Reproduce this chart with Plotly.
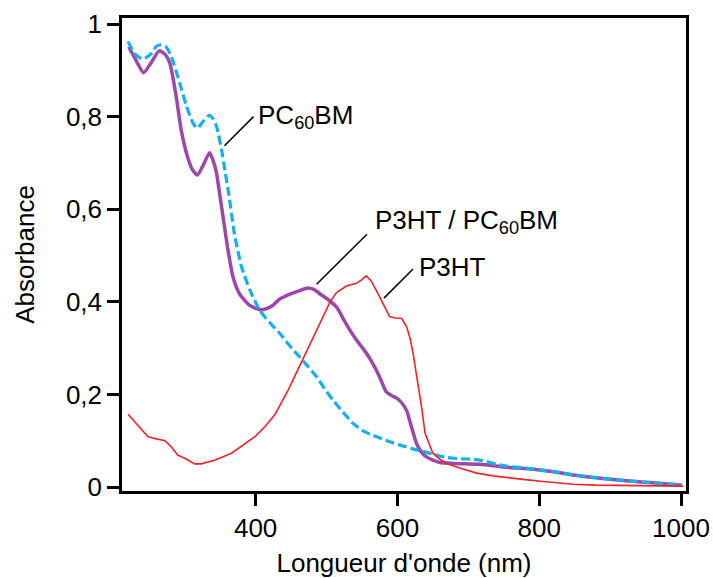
import plotly.graph_objects as go

# ---- data ----
p3ht_nm = [220, 229, 239, 248, 257, 272, 281, 290, 300, 314, 323, 342, 366, 384, 399, 413, 427, 446,
           462, 486, 505, 514, 523, 528, 542, 549, 556, 563, 570, 582, 589, 597, 606, 613, 618, 622,
           629, 634, 639, 645, 650, 660, 669, 690, 712, 735, 759, 780, 806, 830, 848, 880, 919, 960, 1003]
p3ht_abs = [0.157, 0.141, 0.123, 0.109, 0.105, 0.100, 0.087, 0.069, 0.062, 0.050, 0.050, 0.058, 0.073,
            0.093, 0.109, 0.130, 0.156, 0.210, 0.262, 0.340, 0.400, 0.420, 0.430, 0.434, 0.440, 0.447,
            0.456, 0.445, 0.425, 0.389, 0.368, 0.365, 0.364, 0.346, 0.320, 0.289, 0.224, 0.173, 0.116,
            0.090, 0.073, 0.060, 0.051, 0.040, 0.030, 0.024, 0.019, 0.016, 0.012, 0.009, 0.006, 0.004,
            0.003, 0.003, 0.002]

blend_nm = [221, 230, 242, 252, 264, 272, 279, 288, 295, 304, 311, 318, 326, 335, 340, 345, 347, 354,
            361, 368, 377, 391, 406, 415, 424, 433, 443, 458, 474, 482, 490, 502, 514, 523, 533, 542,
            551, 561, 570, 577, 584, 591, 599, 606, 613, 617, 622, 627, 633, 641, 650, 660, 680, 693,
            716, 730, 754, 780, 801, 825, 848, 880, 919, 960, 1001]
blend_abs = [0.951, 0.925, 0.895, 0.915, 0.942, 0.935, 0.915, 0.843, 0.771, 0.713, 0.685, 0.674, 0.695,
             0.722, 0.705, 0.677, 0.656, 0.584, 0.512, 0.454, 0.418, 0.393, 0.383, 0.385, 0.392, 0.405,
             0.413, 0.422, 0.430, 0.427, 0.418, 0.405, 0.389, 0.365, 0.339, 0.318, 0.300, 0.278, 0.253,
             0.230, 0.206, 0.198, 0.192, 0.182, 0.165, 0.145, 0.118, 0.094, 0.077, 0.065, 0.058, 0.053,
             0.051, 0.050, 0.049, 0.047, 0.0425, 0.040, 0.037, 0.032, 0.026, 0.020, 0.014, 0.009, 0.004]

pcbm_nm = [220, 230, 241, 252, 260, 267, 274, 281, 293, 302, 312, 318, 326, 335, 340, 345, 352, 356,
           362, 370, 380, 392, 406, 420, 434, 448, 462, 474, 486, 497, 509, 523, 537, 553, 570, 587,
           603, 620, 636, 652, 669, 690, 707, 716, 726, 740, 754, 780, 801, 825, 848, 880, 919, 960, 1001]
pcbm_abs = [0.962, 0.935, 0.924, 0.935, 0.952, 0.955, 0.950, 0.930, 0.872, 0.825, 0.785, 0.775, 0.790,
            0.803, 0.795, 0.778, 0.728, 0.690, 0.634, 0.548, 0.476, 0.425, 0.381, 0.355, 0.332, 0.305,
            0.281, 0.260, 0.238, 0.213, 0.188, 0.162, 0.138, 0.120, 0.109, 0.099, 0.091, 0.083, 0.077,
            0.070, 0.064, 0.061, 0.060, 0.058, 0.055, 0.049, 0.045, 0.041, 0.037, 0.032, 0.026, 0.020,
            0.014, 0.009, 0.005]

x_tickvals = [400, 600, 800, 1000]
x_ticktext = ["400", "600", "800", "1000"]
y_tickvals = [0, 0.2, 0.4, 0.6, 0.8, 1.0]
y_ticktext = ["0", "0,2", "0,4", "0,6", "0,8", "1"]

FONT = "Liberation Sans, Arial, sans-serif"

fig = go.Figure()
fig.add_trace(go.Scatter(x=blend_nm, y=blend_abs, mode="lines", name="P3HT / PC60BM",
                         line=dict(color="#9c48a8", width=3.5, shape="spline", smoothing=0.6)))
fig.add_trace(go.Scatter(x=pcbm_nm, y=pcbm_abs, mode="lines", name="PC60BM",
                         line=dict(color="#14b0ea", width=3.2, dash="9px,4px", shape="spline", smoothing=0.6)))
fig.add_trace(go.Scatter(x=p3ht_nm, y=p3ht_abs, mode="lines", name="P3HT",
                         line=dict(color="#f0222a", width=1.6)))

# leader lines
leaders = [
    (356, 0.737, 397, 0.800),
    (486, 0.438, 557, 0.546),
    (581, 0.408, 622, 0.471),
]
for x0, y0, x1, y1 in leaders:
    fig.add_shape(type="line", xref="x", yref="y", x0=x0, y0=y0, x1=x1, y1=y1,
                  line=dict(color="black", width=1.5))

labels = [
    (401, 0.800, "PC<sub>60</sub>BM"),
    (566, 0.573, "P3HT / PC<sub>60</sub>BM"),
    (627, 0.476, "P3HT"),
]
for x, y, t in labels:
    fig.add_annotation(x=x, y=y, xref="x", yref="y", text=t, showarrow=False,
                       xanchor="left", yanchor="middle",
                       font=dict(family=FONT, size=26, color="black"))

fig.update_layout(
    width=713, height=578,
    margin=dict(l=122, r=27, t=18, b=87),
    paper_bgcolor="white", plot_bgcolor="white",
    showlegend=False,
    font=dict(family=FONT, size=26, color="black"),
    xaxis=dict(range=[211.5, 1007], tickvals=x_tickvals, ticktext=x_ticktext,
               showgrid=False, zeroline=False, showline=True, linecolor="black", linewidth=2.5,
               mirror=True, ticks="outside", ticklen=12, tickwidth=2.5, tickcolor="black",
               tickfont=dict(size=26),
               title=dict(text="Longueur d'onde (nm)", font=dict(size=26), standoff=16),
               automargin=False),
    yaxis=dict(range=[-0.0086, 1.013], tickvals=y_tickvals, ticktext=y_ticktext,
               showgrid=False, zeroline=False, showline=True, linecolor="black", linewidth=2.5,
               mirror=True, ticks="outside", ticklen=12, tickwidth=2.5, tickcolor="black",
               tickfont=dict(size=26),
               title=dict(text="Absorbance", font=dict(size=26), standoff=24),
               automargin=False),
)

fig.write_html("out.html", config={"displayModeBar": False},
               post_script="document.body.style.margin='0';document.body.style.overflow='hidden';")
